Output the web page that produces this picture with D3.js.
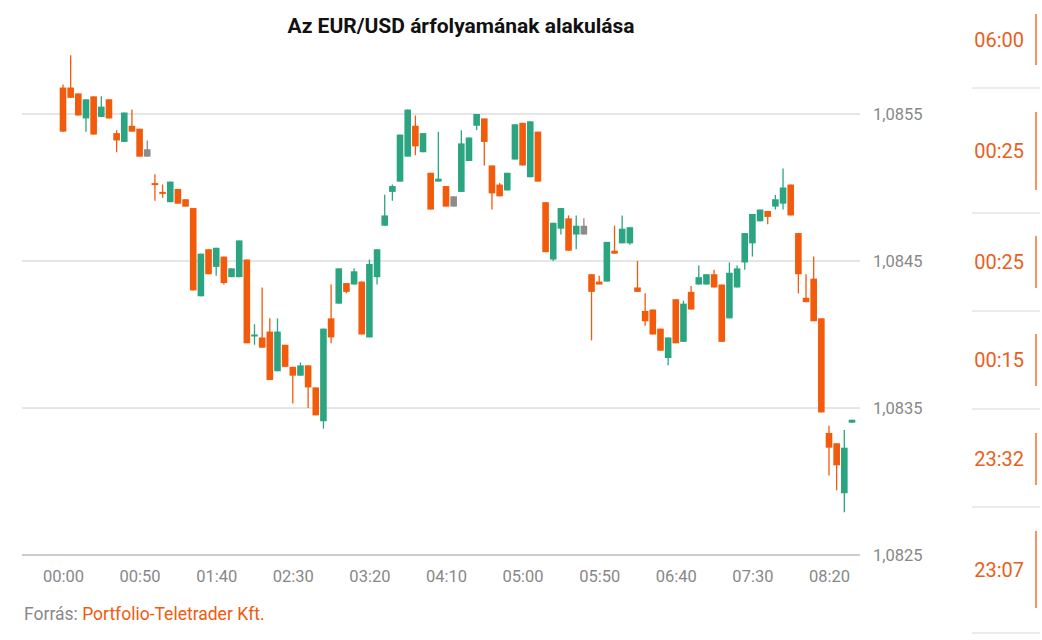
<!DOCTYPE html>
<html><head><meta charset="utf-8">
<script src="https://cdn.jsdelivr.net/npm/d3@7"></script>
<style>body{margin:0;background:#fff;font-family:Roboto,sans-serif}</style>
</head><body><svg id="c" width="1042" height="640"></svg>
<script>
const title = "Az EUR/USD árfolyamának alakulása";
const tickLabels = ["00:00","00:50","01:40","02:30","03:20","04:10","05:00","05:50","06:40","07:30","08:20"];
const yTicks = [1.0825,1.0835,1.0845,1.0855];
const opens = [1.08568,1.08568,1.08564,1.08547,1.08562,1.08548,1.08560,1.08537,1.08531,1.08542,1.08540,1.08526,1.08503,1.08497,1.08490,1.08499,1.08492,1.08486,1.08426,1.08458,1.08446,1.08453,1.08439,1.08439,1.08451,1.08399,1.08398,1.08402,1.08375,1.08393,1.08378,1.08372,1.08379,1.08364,1.08341,1.08411,1.08421,1.08435,1.08434,1.08436,1.08398,1.08439,1.08474,1.08497,1.08504,1.08521,1.08542,1.08524,1.08510,1.08504,1.08501,1.08494,1.08497,1.08518,1.08542,1.08547,1.08515,1.08502,1.08498,1.08519,1.08544,1.08507,1.08538,1.08490,1.08451,1.08472,1.08479,1.08468,1.08474,1.08441,1.08436,1.08436,1.08457,1.08462,1.08462,1.08432,1.08416,1.08417,1.08404,1.08384,1.08424,1.08395,1.08429,1.08434,1.08434,1.08441,1.08434,1.08411,1.08432,1.08449,1.08462,1.08477,1.08484,1.08487,1.08489,1.08502,1.08469,1.08425,1.08438,1.08411,1.08333,1.08326,1.08292,1.08340];
const closes = [1.08538,1.08561,1.08549,1.08560,1.08536,1.08555,1.08547,1.08532,1.08551,1.08538,1.08521,1.08521,1.08502,1.08496,1.08504,1.08489,1.08487,1.08430,1.08455,1.08441,1.08459,1.08435,1.08445,1.08464,1.08394,1.08400,1.08391,1.08369,1.08402,1.08378,1.08372,1.08379,1.08364,1.08345,1.08404,1.08398,1.08445,1.08429,1.08443,1.08400,1.08448,1.08458,1.08481,1.08501,1.08536,1.08553,1.08528,1.08537,1.08485,1.08506,1.08487,1.08487,1.08530,1.08534,1.08550,1.08531,1.08496,1.08494,1.08510,1.08543,1.08515,1.08545,1.08504,1.08456,1.08476,1.08486,1.08457,1.08474,1.08468,1.08429,1.08434,1.08463,1.08455,1.08472,1.08473,1.08429,1.08409,1.08400,1.08389,1.08398,1.08394,1.08421,1.08417,1.08439,1.08441,1.08432,1.08395,1.08442,1.08445,1.08469,1.08482,1.08485,1.08480,1.08492,1.08500,1.08481,1.08441,1.08422,1.08409,1.08347,1.08323,1.08311,1.08323,1.08342];
const highs = [1.08570,1.08590,1.08564,1.08560,1.08562,1.08562,1.08560,1.08539,1.08551,1.08553,1.08540,1.08532,1.08509,1.08502,1.08504,1.08499,1.08492,1.08486,1.08455,1.08458,1.08459,1.08453,1.08445,1.08464,1.08451,1.08407,1.08432,1.08411,1.08411,1.08393,1.08378,1.08381,1.08379,1.08364,1.08404,1.08434,1.08445,1.08435,1.08445,1.08436,1.08451,1.08458,1.08495,1.08502,1.08536,1.08553,1.08549,1.08537,1.08510,1.08538,1.08501,1.08494,1.08539,1.08534,1.08550,1.08547,1.08515,1.08503,1.08510,1.08543,1.08544,1.08545,1.08538,1.08490,1.08476,1.08486,1.08481,1.08481,1.08479,1.08441,1.08440,1.08463,1.08474,1.08481,1.08473,1.08450,1.08428,1.08417,1.08404,1.08398,1.08424,1.08423,1.08433,1.08447,1.08441,1.08444,1.08434,1.08449,1.08447,1.08469,1.08482,1.08485,1.08484,1.08495,1.08513,1.08502,1.08469,1.08441,1.08453,1.08411,1.08338,1.08326,1.08335,1.08342];
const lows = [1.08538,1.08561,1.08549,1.08538,1.08536,1.08548,1.08547,1.08524,1.08531,1.08538,1.08521,1.08521,1.08491,1.08493,1.08490,1.08489,1.08487,1.08430,1.08426,1.08441,1.08440,1.08434,1.08439,1.08439,1.08394,1.08393,1.08391,1.08369,1.08375,1.08378,1.08353,1.08372,1.08350,1.08345,1.08336,1.08394,1.08421,1.08428,1.08434,1.08400,1.08398,1.08434,1.08474,1.08491,1.08504,1.08521,1.08522,1.08524,1.08485,1.08504,1.08487,1.08487,1.08497,1.08518,1.08539,1.08515,1.08485,1.08494,1.08498,1.08519,1.08515,1.08507,1.08504,1.08456,1.08450,1.08468,1.08457,1.08458,1.08468,1.08396,1.08434,1.08436,1.08455,1.08462,1.08461,1.08429,1.08406,1.08400,1.08389,1.08379,1.08394,1.08395,1.08417,1.08434,1.08434,1.08432,1.08395,1.08411,1.08432,1.08444,1.08453,1.08477,1.08475,1.08485,1.08485,1.08481,1.08428,1.08422,1.08409,1.08347,1.08304,1.08294,1.08279,1.08340];
const flatIdx = [11,51,68];
const sideLabels = ["06:00","00:25","00:25","00:15","23:32","23:07"];

const ORANGE="#f25a0c", GREEN="#2ba581", GREY="#8c8c8c";
const svg=d3.select("#c");
const x=d3.scaleLinear().domain([0,100]).range([63,829]);
const y=d3.scaleLinear().domain([1.0825,1.0855]).range([555,114]);

svg.append("text").attr("x",461).attr("y",33).attr("text-anchor","middle")
 .attr("font-size",21).attr("font-weight","bold").attr("fill","#111").text(title);

const yAx=svg.append("g").attr("transform","translate(860,0)")
 .call(d3.axisRight(y).tickValues(yTicks).tickSize(0).tickPadding(13).tickFormat(d=>d3.format(".4f")(d).replace(".",",")));
yAx.select(".domain").remove();
yAx.selectAll("text").attr("fill","#888").attr("font-size",16.5).attr("font-family","Roboto");
svg.append("g").selectAll("line").data(yTicks).join("line")
 .attr("x1",22).attr("x2",860).attr("y1",d=>y(d)).attr("y2",d=>y(d))
 .attr("stroke",d=>d===1.0825?"#999":"#ccc").attr("stroke-width",1);

const xAx=svg.append("g").attr("transform","translate(0,555)")
 .call(d3.axisBottom(x).tickValues(d3.range(0,101,10)).tickSize(0).tickPadding(15).tickFormat((d,i)=>tickLabels[i]));
xAx.select(".domain").remove();
xAx.selectAll("text").attr("fill","#888").attr("font-size",16.5).attr("font-family","Roboto");

const data=opens.map((o,i)=>({i,o,c:closes[i],h:highs[i],l:lows[i],flat:flatIdx.includes(i)}));
const col=d=>d.flat?GREY:(d.c>=d.o?GREEN:ORANGE);
const g=svg.append("g");
g.selectAll(".w").data(data).join("line")
 .attr("x1",d=>x(d.i)).attr("x2",d=>x(d.i)).attr("y1",d=>y(d.h)).attr("y2",d=>y(d.l))
 .attr("stroke",col).attr("stroke-width",1.3);
g.selectAll(".b").data(data).join("rect")
 .attr("x",d=>x(d.i)-3.3).attr("width",6.6)
 .attr("y",d=>y(Math.max(d.o,d.c))).attr("height",d=>Math.max(2,Math.abs(y(d.o)-y(d.c))))
 .attr("fill",col);

const sy=[40,151,262,360,459,570], bar=[[14,65],[112,190],[236,288],[334,386],[433,485],[531,608]], sep=[88,213,311,409,507,633];
svg.append("g").selectAll("line").data(sep).join("line").attr("x1",972).attr("x2",1040)
 .attr("y1",d=>d).attr("y2",d=>d).attr("stroke","#d8d8d8");
svg.append("g").selectAll("line").data(bar).join("line").attr("x1",1036).attr("x2",1036)
 .attr("y1",d=>d[0]).attr("y2",d=>d[1]).attr("stroke",ORANGE).attr("stroke-width",1.3);
svg.append("g").selectAll("text").data(sideLabels).join("text").attr("x",1024).attr("text-anchor","end")
 .attr("y",(d,i)=>sy[i]+7).attr("font-size",20).attr("fill","#e8601c").text(d=>d);

const f=svg.append("text").attr("x",24).attr("y",620).attr("font-size",17.5);
f.append("tspan").attr("fill","#888").text("Forrás: ");
f.append("tspan").attr("fill",ORANGE).text("Portfolio-Teletrader Kft.");
</script></body></html>
